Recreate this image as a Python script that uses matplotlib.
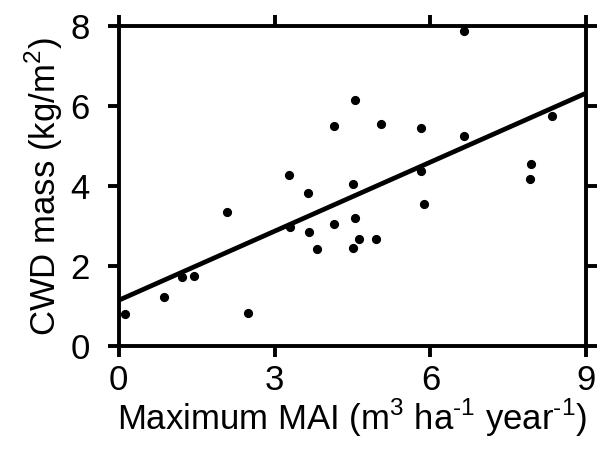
import numpy as np
import matplotlib
matplotlib.use('Agg')
import matplotlib.pyplot as plt

plt.rcParams['font.family'] = ['Liberation Sans', 'DejaVu Sans']
plt.rcParams['mathtext.fontset'] = 'custom'
plt.rcParams['mathtext.rm'] = 'Liberation Sans'

# max MAI (m3/ha/yr) vs CWD mass (kg/m2)
mai = [0.12, 0.87, 1.21, 1.44, 2.08, 2.49, 3.27, 3.29, 3.65, 3.66, 3.81,
       4.14, 4.14, 4.50, 4.51, 4.55, 4.55, 4.62, 4.96, 5.04, 5.82, 5.82,
       5.87, 6.64, 6.65, 7.92, 7.94, 8.34]
cwd = [0.80, 1.24, 1.74, 1.76, 3.36, 0.82, 4.29, 2.97, 3.84, 2.86, 2.42,
       5.52, 3.05, 4.06, 2.45, 6.17, 3.22, 2.68, 2.68, 5.55, 5.47, 4.38,
       3.57, 5.27, 7.89, 4.18, 4.55, 5.75]

# fitted line as drawn
fit_x = [0, 9]
intercept = 1.15
slope = 0.576

fig = plt.figure(figsize=(6, 4.49), dpi=100)
ax = fig.add_axes([0.198, 0.229, 0.779, 0.712])

ax.plot(mai, cwd, 'o', color='black', markersize=5.6)
fx = np.array(fit_x)
ax.plot(fx, intercept + slope*fx, color='black', linewidth=3.4,
        solid_capstyle='butt')

ax.set_xlim(0, 9)
ax.set_ylim(0, 8)
ax.set_xticks([0, 3, 6, 9])
ax.set_yticks([0, 2, 4, 6, 8])

for s in ax.spines.values():
    s.set_linewidth(2.8)
ax.tick_params(direction='out', length=8, width=2.8, labelsize=25,
               top=True, right=True)
ax.tick_params(axis='x', pad=5)
ax.tick_params(axis='y', pad=13)

ax.set_xlabel(r'Maximum MAI (m$^3$ ha$^{\text{-}1}$ year$^{\text{-}1}$)',
              fontsize=25, labelpad=0)
ax.set_ylabel('CWD mass (kg/m$^2$)', fontsize=25, labelpad=4)

fig.savefig('out.png', dpi=100)
